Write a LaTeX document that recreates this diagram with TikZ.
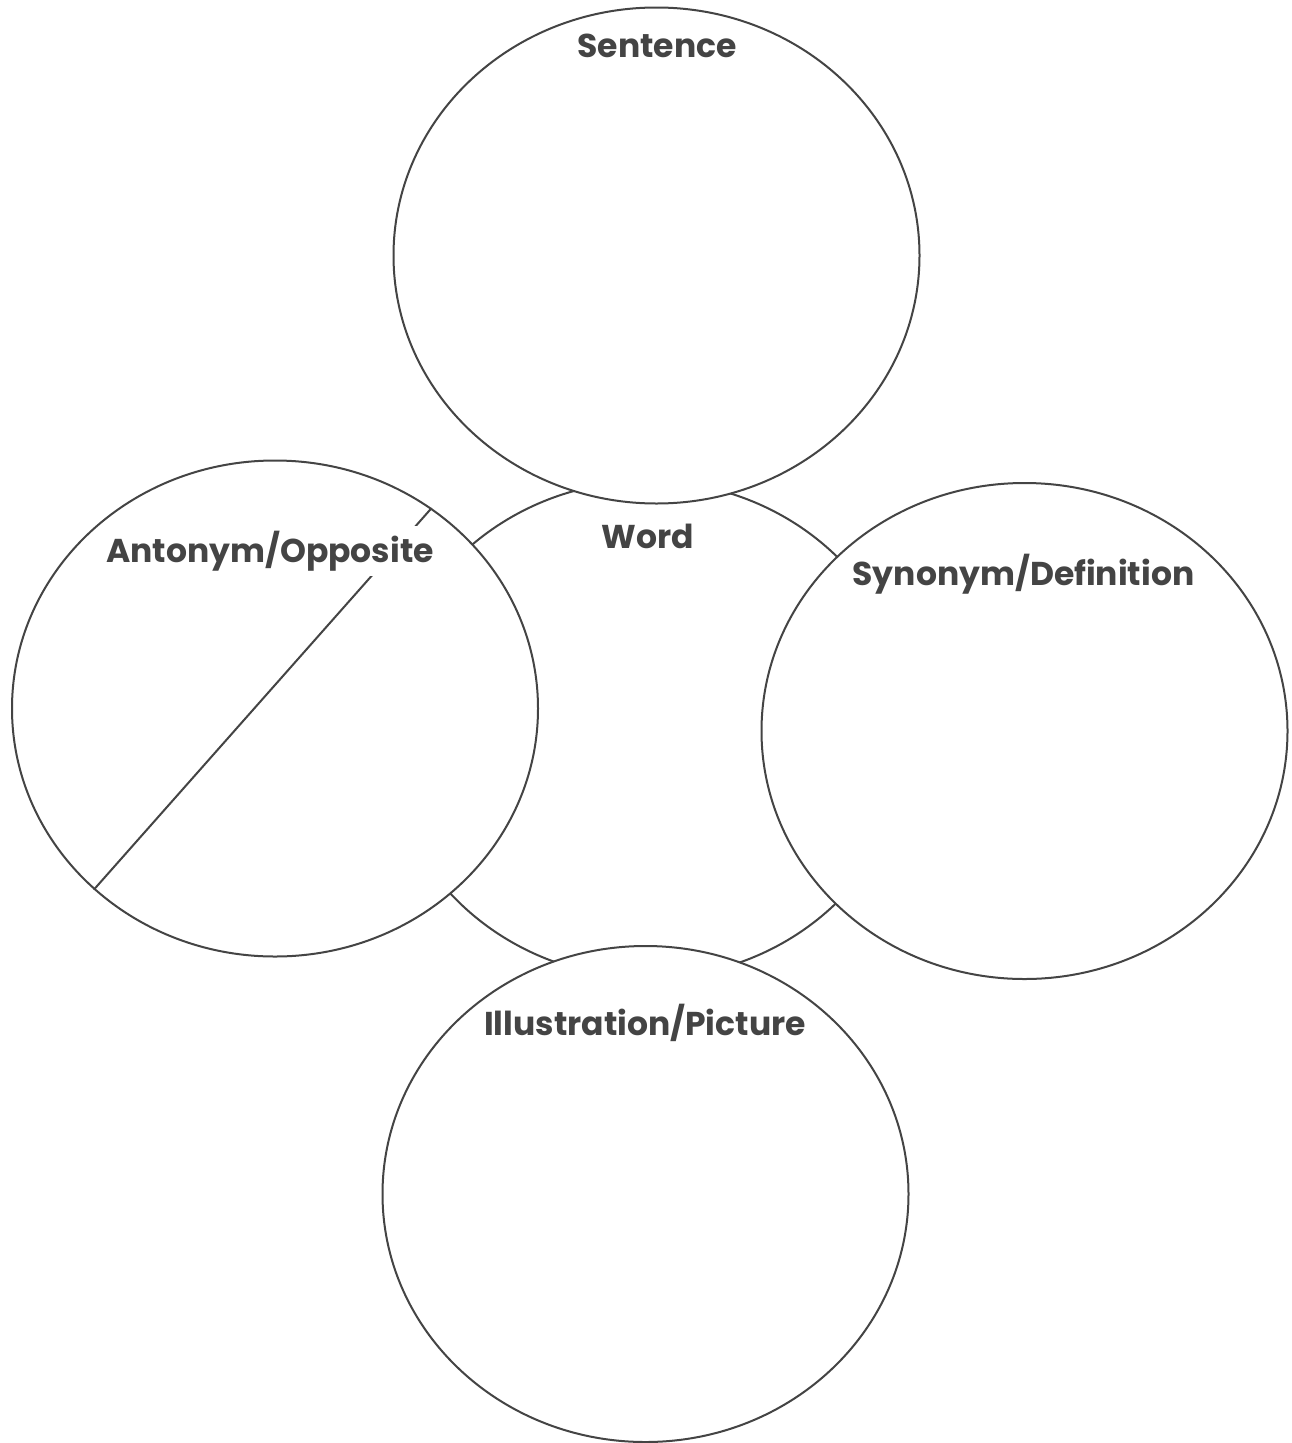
\documentclass[tikz,border=0pt]{standalone}
\usepackage{fontspec}
\setmainfont{Poppins}
\usetikzlibrary{shapes.geometric}
\definecolor{ink}{HTML}{444444}
\begin{document}
\begin{tikzpicture}[x=1pt,y=-1pt,
  bubble/.style={ellipse,draw=ink,line width=2pt,fill=white,inner sep=0pt,
    minimum width=526pt,minimum height=496pt},
  lbl/.style={anchor=base,text=ink,inner sep=0pt,
    font=\fontsize{33}{36}\selectfont\bfseries}]
\useasboundingbox[fill=white] (0,0) rectangle (1291,1443);
\node[bubble,minimum width=526pt,minimum height=497pt] (word) at (648,729.5) {};
\node[bubble] (sent) at (656.5,255.5) {};
\node[bubble] (ant) at (275,708.5) {};
\node[bubble] (syn) at (1024.5,731) {};
\node[bubble] (ill) at (645.5,1194) {};
\draw[draw=ink,line width=2pt] (ant.52) -- (ant.225.5);
\node[lbl] (tsent) at (657,57) {Sentence};
\node[lbl] (tword) at (648,548) {Word};
\node[lbl,fill=white,inner sep=5pt] (tant) at (270,562) {Antonym/Opposite};
\node[lbl] (tsyn) at (1023.5,585) {Synonym/Definition};
\node[lbl] (till) at (645,1035) {Illustration/Picture};
\end{tikzpicture}
\end{document}
